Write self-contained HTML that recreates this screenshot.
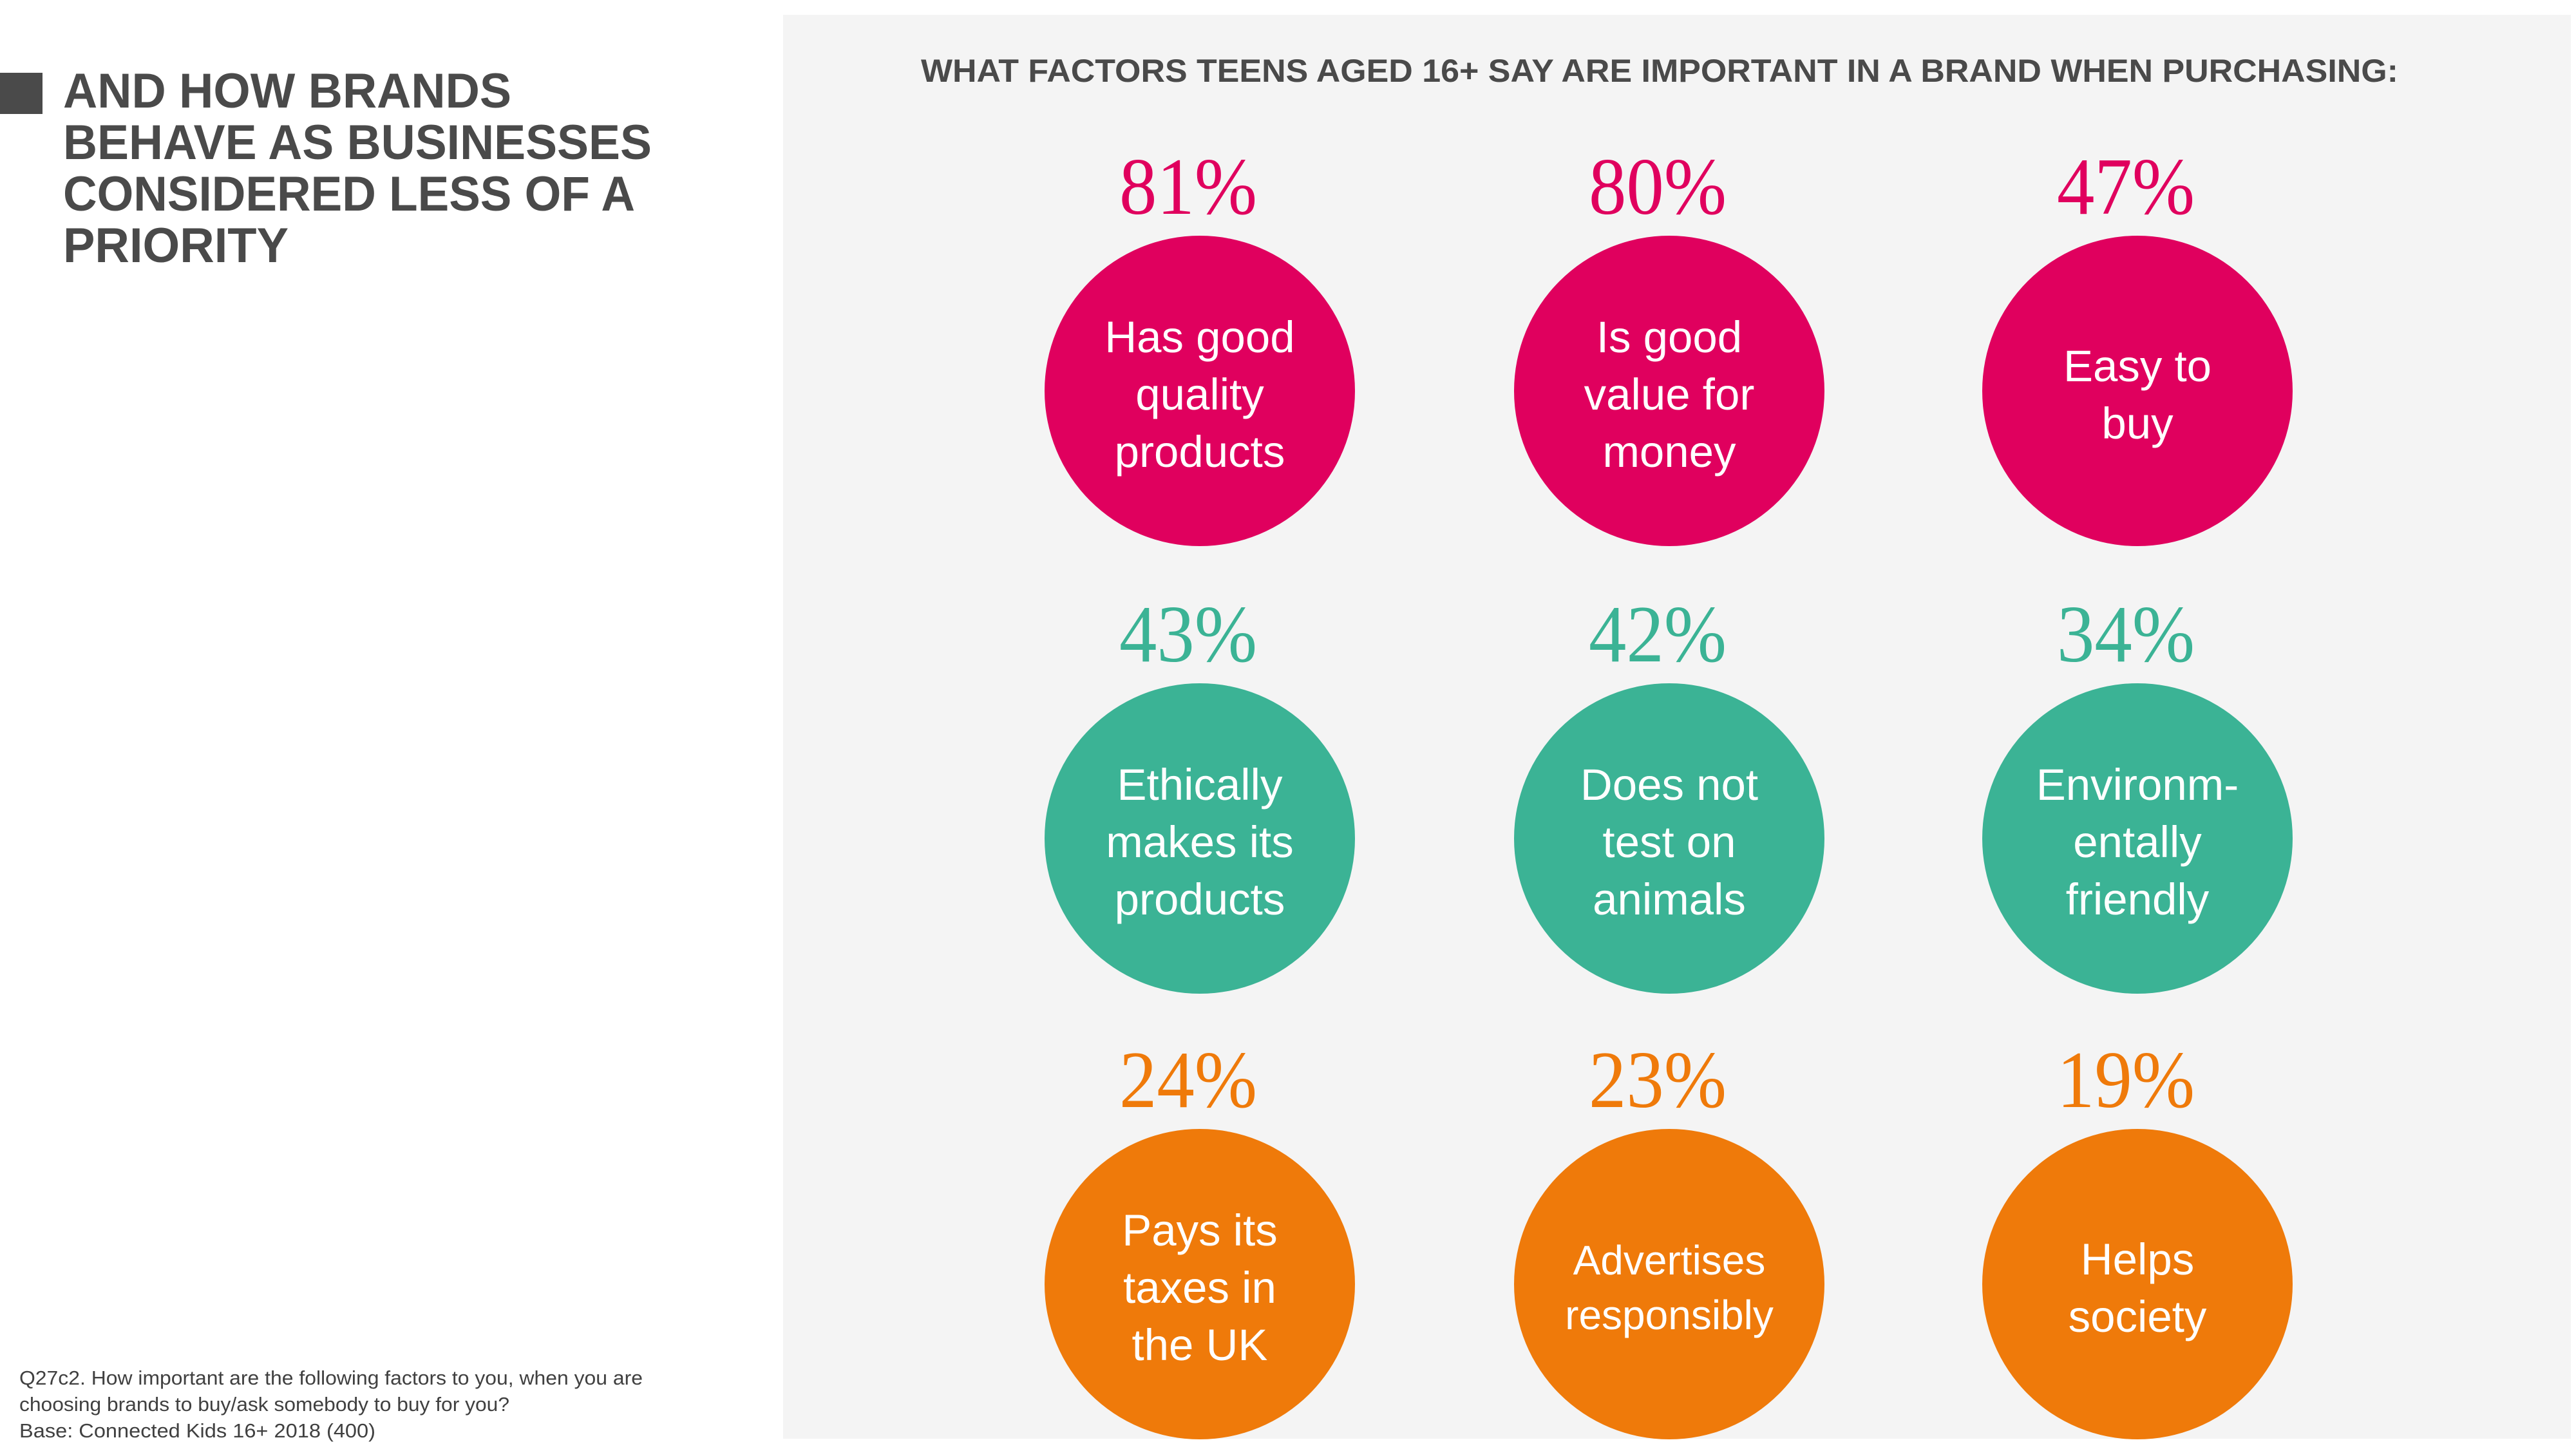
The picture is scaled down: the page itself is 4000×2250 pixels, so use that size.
<!DOCTYPE html>
<html><head><meta charset="utf-8"><style>
html,body{margin:0;padding:0;background:#fff;}
svg{display:block;}
</style></head><body>
<svg width="4000" height="2250" viewBox="0 0 4000 2250" xmlns="http://www.w3.org/2000/svg" font-family="'Liberation Sans', sans-serif">
<rect x="1216" y="23" width="2776" height="2211" fill="#f4f4f4"/>
<rect x="0" y="113" width="66" height="64" fill="#4a4a4a"/>
<g fill="#4a4a4a" font-weight="bold" font-size="76">
<text x="98" y="167" textLength="696" lengthAdjust="spacingAndGlyphs">AND HOW BRANDS</text>
<text x="98" y="247" textLength="914" lengthAdjust="spacingAndGlyphs">BEHAVE AS BUSINESSES</text>
<text x="98" y="327" textLength="888" lengthAdjust="spacingAndGlyphs">CONSIDERED LESS OF A</text>
<text x="98" y="407" textLength="350" lengthAdjust="spacingAndGlyphs">PRIORITY</text>
</g>
<text x="1430" y="127" font-size="50" font-weight="bold" fill="#4a4a4a" textLength="2294" lengthAdjust="spacingAndGlyphs">WHAT FACTORS TEENS AGED 16+ SAY ARE IMPORTANT IN A BRAND WHEN PURCHASING:</text>
<g fill="#404040" font-size="31">
<text x="30" y="2150" textLength="968" lengthAdjust="spacingAndGlyphs">Q27c2. How important are the following factors to you, when you are</text>
<text x="30" y="2191" textLength="761" lengthAdjust="spacingAndGlyphs">choosing brands to buy/ask somebody to buy for you?</text>
<text x="30" y="2232" textLength="553" lengthAdjust="spacingAndGlyphs">Base: Connected Kids 16+ 2018 (400)</text>
</g>
<g id="grid"></g>
<script>
const labels = [["Has good","quality","products"],["Is good","value for","money"],["Easy to","buy"],["Ethically","makes its","products"],["Does not","test on","animals"],["Environm-","entally","friendly"],["Pays its","taxes in","the UK"],["Advertises","responsibly"],["Helps","society"]];
const values = [81,80,47,43,42,34,24,23,19];
const rowColors = ["#e0005e","#3bb395","#ef7a0a"];
const colX = [1863,2592,3319];
const rowY = [607,1302,1994];
const ns = "http://www.w3.org/2000/svg";
const g = document.getElementById('grid');
values.forEach((v,i)=>{
  const r = Math.floor(i/3), c = i%3;
  const cx = colX[c], cy = rowY[r], col = rowColors[r];
  const circ = document.createElementNS(ns,'circle');
  circ.setAttribute('cx',cx); circ.setAttribute('cy',cy); circ.setAttribute('r',241); circ.setAttribute('fill',col);
  
  
  g.appendChild(circ);
  const pt = document.createElementNS(ns,'text');
  pt.setAttribute('x',cx-18); pt.setAttribute('y',cy-275);
  pt.setAttribute('text-anchor','middle'); pt.setAttribute('font-size','126');
  pt.setAttribute('font-family',"'Liberation Serif', serif");
  pt.setAttribute('fill',col);
  pt.setAttribute('textLength','214'); pt.setAttribute('lengthAdjust','spacingAndGlyphs');
  pt.textContent = v + '%';
  
  
  g.appendChild(pt);
  const lines = labels[i];
  const small = lines[0]==="Advertises";
  const sp = small ? 85 : 89;
  const start = cy + 29 - sp*(lines.length-1)/2 + (lines.length===3?0:0) - (lines.length===3?0:44) + (lines.length===2?44:0) - (lines.length===2? sp/2 : 0) + (lines.length===2?0:0);
  lines.forEach((ln,k)=>{
    const t = document.createElementNS(ns,'text');
    const base = lines.length===3 ? cy - 60 + k*sp : cy - 15 + k*sp;
    t.setAttribute('x',cx); t.setAttribute('y',base);
    t.setAttribute('text-anchor','middle'); t.setAttribute('font-size', small ? '64' : '69');
    t.setAttribute('fill','#ffffff');
    t.textContent = ln;
    
    
    g.appendChild(t);
  });
});
</script>
</svg>
</body></html>
